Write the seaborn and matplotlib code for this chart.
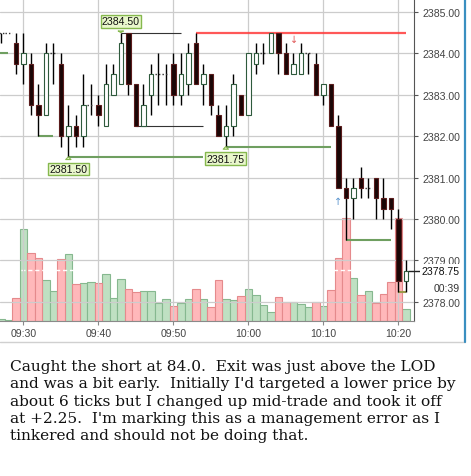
import numpy as np
import pandas as pd
import matplotlib
matplotlib.use("Agg")
import matplotlib.pyplot as plt
import matplotlib.transforms as mtransforms
from matplotlib.lines import Line2D
import seaborn as sns

# 1-minute bars, minutes counted from 09:30
minutes = list(range(-3, 52))
opens = [2384.50, 2384.50, 2384.25, 2383.75, 2383.75, 2382.75, 2382.50, 2384.00,
         2383.75, 2382.00, 2382.25, 2382.00, 2382.75, 2382.75, 2382.25, 2383.00,
         2383.25, 2384.50, 2383.25, 2382.25, 2383.00, 2383.50, 2383.50, 2383.75,
         2383.00, 2383.25, 2384.25, 2383.25, 2383.50, 2382.50, 2382.00, 2382.25,
         2383.00, 2382.50, 2383.75, 2384.00, 2384.00, 2384.50, 2384.00, 2383.50,
         2383.50, 2384.00, 2383.75, 2383.00, 2383.25, 2382.25, 2380.75, 2380.50,
         2381.00, 2380.75, 2381.00, 2380.50, 2380.50, 2380.00, 2378.50]
highs = [2384.50, 2384.50, 2384.50, 2384.50, 2384.00, 2383.25, 2384.25, 2384.25,
         2384.00, 2382.75, 2382.50, 2383.50, 2383.25, 2383.00, 2383.75, 2383.75,
         2384.50, 2384.50, 2383.25, 2383.25, 2383.75, 2384.00, 2383.75, 2384.00,
         2384.00, 2384.25, 2384.50, 2383.75, 2383.50, 2382.75, 2382.75, 2383.50,
         2383.00, 2384.00, 2384.25, 2384.25, 2384.50, 2384.50, 2384.25, 2384.00,
         2384.25, 2384.00, 2384.00, 2383.25, 2383.25, 2382.50, 2381.00, 2381.00,
         2381.25, 2381.00, 2381.00, 2381.00, 2380.50, 2380.25, 2379.00]
lows = [2384.25, 2384.50, 2383.50, 2383.25, 2382.50, 2382.00, 2382.50, 2383.25,
        2381.75, 2381.50, 2381.75, 2381.75, 2382.50, 2382.25, 2382.25, 2383.00,
        2383.25, 2383.00, 2382.25, 2382.25, 2382.50, 2382.75, 2382.75, 2382.75,
        2382.75, 2383.00, 2383.25, 2382.75, 2382.50, 2382.00, 2381.75, 2382.00,
        2382.50, 2382.50, 2383.50, 2383.75, 2384.00, 2383.50, 2383.50, 2383.50,
        2383.50, 2383.50, 2383.00, 2382.75, 2382.25, 2380.75, 2379.50, 2380.00,
        2380.50, 2380.50, 2380.00, 2380.00, 2379.75, 2378.25, 2378.25]
closes = [2384.50, 2384.50, 2383.75, 2384.00, 2382.75, 2382.50, 2384.00, 2384.00,
          2382.00, 2382.25, 2382.00, 2382.75, 2382.75, 2382.50, 2383.25, 2383.50,
          2384.25, 2383.25, 2382.25, 2382.75, 2383.50, 2383.50, 2383.50, 2383.00,
          2383.50, 2384.00, 2383.25, 2383.50, 2382.75, 2382.00, 2382.25, 2383.25,
          2382.50, 2384.00, 2384.00, 2384.00, 2384.50, 2384.00, 2383.50, 2383.75,
          2384.00, 2384.00, 2383.00, 2383.25, 2382.25, 2380.75, 2380.50, 2380.75,
          2380.75, 2380.75, 2380.50, 2380.25, 2380.25, 2378.50, 2378.75]
volumes = [7, 3, 70, 277, 203, 190, 122, 91, 187, 202, 112, 115, 118, 115, 142,
           70, 125, 97, 88, 91, 91, 53, 67, 44, 53, 67, 95, 65, 41, 122, 65, 62,
           74, 95, 77, 47, 28, 71, 57, 57, 50, 42, 57, 45, 92, 190, 310, 128, 78,
           89, 53, 80, 118, 310, 35]
vol_avg = 153

time_ticks = [0, 10, 20, 30, 40, 50]
time_labels = ["09:30", "09:40", "09:50", "10:00", "10:10", "10:20"]
price_ticks = [2378, 2379, 2380, 2381, 2382, 2383, 2384, 2385]

# horizontal level lines: price, from minute, to minute, kind
level_price = [2384.50, 2384.50, 2382.25, 2384.00, 2382.00, 2381.50, 2381.75, 2379.50, 2378.25]
level_start = [23, 13, 15, -4, 2, 6, 27, 43, 50]
level_end = [51, 21, 24, -2, 4, 24, 41, 49, 51]
level_kind = ["short", "high", "high", "low", "low", "low", "low", "low", "exit"]

# callouts at swing points: text, minute, price, above/below
callout_text = ["2384.50", "2381.50", "2381.75"]
callout_min = [13, 6, 27]
callout_price = [2384.50, 2381.50, 2381.75]
callout_up = [True, False, False]

last_price = 2378.75
countdown = "00:39"

caption = ("Caught the short at 84.0.  Exit was just above the LOD\n"
           "and was a bit early.  Initially I'd targeted a lower price by\n"
           "about 6 ticks but I changed up mid-trade and took it off\n"
           "at +2.25.  I'm marking this as a management error as I\n"
           "tinkered and should not be doing that.")

df = pd.DataFrame({"minute": minutes, "open": opens, "high": highs,
                   "low": lows, "close": closes, "volume": volumes})
assert all(len(c) == len(minutes) for c in [opens, highs, lows, closes, volumes])
df["up"] = df["close"] >= df["open"]

sns.set_style("white")
plt.rcParams["font.family"] = ["Liberation Sans", "DejaVu Sans"]

fig = plt.figure(figsize=(4.71, 4.77), dpi=100)
ax = fig.add_axes([0, 155 / 477, 414 / 471, 322 / 477])
axv = ax.twinx()
ax.set_zorder(axv.get_zorder() + 1)
ax.patch.set_visible(False)

# volume bars
sns.barplot(data=df[df["up"]], x="minute", y="volume", native_scale=True,
            width=1.0, color="#bfe0c2", edgecolor="#86b88f", linewidth=0.8,
            saturation=1, errorbar=None, ax=axv)
sns.barplot(data=df[~df["up"]], x="minute", y="volume", native_scale=True,
            width=1.0, color="#ffb8ba", edgecolor="#e58a8c", linewidth=0.8,
            saturation=1, errorbar=None, ax=axv)
axv.axhline(vol_avg, color="white", lw=1, ls=(0, (3, 2)))
axv.set_ylim(0, 966)
axv.set_yticks([])
axv.set_xlabel("")
axv.set_ylabel("")
for s in axv.spines.values():
    s.set_visible(False)

# candles
ax.vlines(df["minute"], df["low"], df["high"], color="black", lw=1, zorder=3)
body = df[df["close"] != df["open"]]
dn = body[body["close"] < body["open"]]
upb = body[body["close"] > body["open"]]
ax.bar(dn["minute"], dn["close"] - dn["open"], bottom=dn["open"], width=0.6,
       color="#1a0606", edgecolor="#5a1c1c", lw=0.8, zorder=4)
ax.bar(upb["minute"], upb["close"] - upb["open"], bottom=upb["open"], width=0.6,
       color="white", edgecolor="#2e5a3c", lw=0.8, zorder=4)
doji = df[df["close"] == df["open"]]
ax.hlines(doji["open"], doji["minute"] - 0.45, doji["minute"] + 0.45,
          color="#333333", lw=1, ls=(0, (1, 1.5)), zorder=4)

# level lines
kind_style = {"short": dict(color="#ff3b3b", lw=1.6, alpha=0.85),
              "high": dict(color="#333333", lw=0.8),
              "low": dict(color="#6f9f60", lw=1.5),
              "exit": dict(color="#9c9a4a", lw=1.5)}
for p, a, b, k in zip(level_price, level_start, level_end, level_kind):
    ax.hlines(p, a, b, zorder=2.5, **kind_style[k])

# callouts
for t, m, p, up in zip(callout_text, callout_min, callout_price, callout_up):
    ax.annotate(t, xy=(m, p), xytext=(0, 8 if up else -8.8), textcoords="offset points",
                ha="center", va="center", fontsize=7.6, color="#111111", zorder=6,
                bbox=dict(boxstyle="square,pad=0.12", fc="#e9f7cc", ec="#86b84e", lw=1),
                arrowprops=dict(arrowstyle="wedge,tail_width=0.5,shrink_factor=0.5",
                                fc="#e9f7cc", ec="#86b84e", lw=0.8))

# entry / exit arrows
ax.text(36.1, 2384.35, "\u2193", color="#e05a5a", fontsize=7, ha="center", va="center",
        family="DejaVu Sans", zorder=6)
ax.text(42, 2380.44, "\u2191", color="#5b95cf", fontsize=7, ha="center", va="center",
        family="DejaVu Sans", zorder=6)

ax.set_xlim(-3.11, 52.09)
ax.set_ylim(2377.54, 2385.31)
ax.set_xticks(time_ticks)
ax.set_xticklabels(time_labels)
ax.set_yticks(price_ticks)
ax.set_yticklabels([f"{v:.2f}" for v in price_ticks])
ax.yaxis.tick_right()
ax.tick_params(axis="y", right=True, length=3, width=0.8, color="#555555", pad=3,
               labelsize=7.6, labelcolor="#444444")
ax.tick_params(axis="x", bottom=True, length=3, width=0.8, color="#888888", pad=2,
               labelsize=7.6, labelcolor="#444444")
ax.grid(True, color="#cccccc", lw=0.9)
for side in ["left", "top"]:
    ax.spines[side].set_visible(False)
ax.spines["right"].set_color("#555555")
ax.spines["bottom"].set_color("#8a8a8a")

# last price box and countdown
trans = mtransforms.blended_transform_factory(ax.transAxes, ax.transData)
ax.plot([1.0], [last_price], marker="_", ms=9, mew=1, color="#222222",
        transform=trans, clip_on=False, zorder=7)
ax.text(1.11, last_price, f"{last_price:.2f}", transform=trans, ha="right", va="center",
        fontsize=7.6, color="#111111", zorder=7,
        bbox=dict(boxstyle="square,pad=0.15", fc="white", ec="none"))
ax.text(1.111, 2378.34, countdown, transform=trans, ha="right", va="center",
        fontsize=7.6, color="#333333")

# widget frame
fig.add_artist(Line2D([0, 465 / 471], [1 - 343 / 477] * 2, color="#d0d0d0", lw=1))
fig.add_artist(Line2D([465 / 471] * 2, [1 - 343 / 477, 1], color="#3a8fc0", lw=1.6))

fig.text(10 / 471, 1 - 360 / 477, caption, ha="left", va="top", fontsize=11.1,
         family="DejaVu Serif", linespacing=1.3, color="#111111")

fig.savefig("out.png", dpi=100)
